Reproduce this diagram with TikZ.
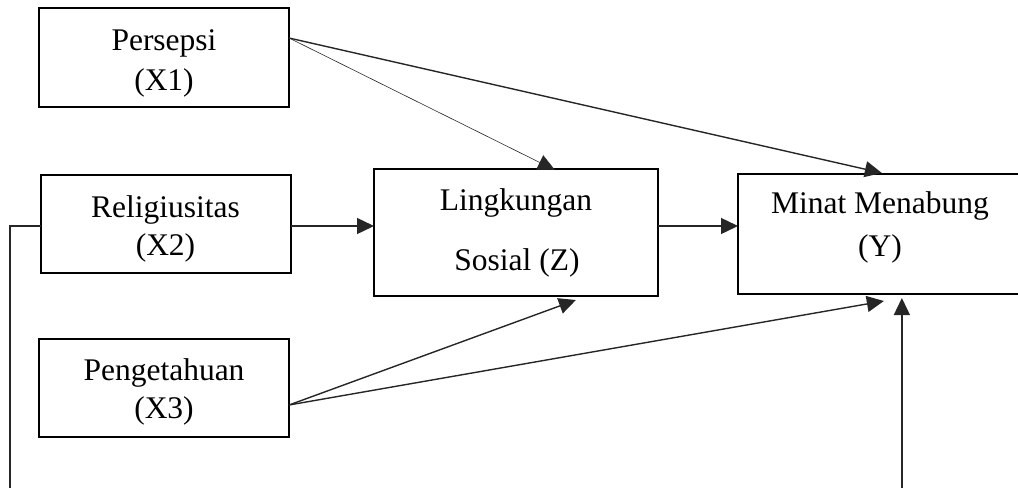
\documentclass[tikz,border=0pt]{standalone}
\usepackage{fontspec}
\setmainfont{Liberation Serif}
\usetikzlibrary{arrows.meta,calc}
\tikzset{
  box/.style={draw=black,line width=2.4pt,rectangle,inner sep=0pt,outer sep=0pt},
  lbl/.style={inner sep=0pt,outer sep=0pt,anchor=base,font=\fontsize{31.5}{38}\selectfont},
  arr/.style={draw=black!85,line width=1.4pt,-{Triangle[length=17pt,width=16pt]}},
  thinarr/.style={draw=black!85,line width=0.6pt,-{Triangle[length=17pt,width=16pt]}},
  conn/.style={draw=black!85,line width=1.4pt}
}
\begin{document}
\begin{tikzpicture}[x=1pt,y=-1pt]
\useasboundingbox (0,0) rectangle (1018,488);
\begin{scope}
\clip (0,0) rectangle (1018,488);
% boxes
\node[box,minimum width=250pt,minimum height=99pt] (x1) at (164,57.5) {};
\node[box,minimum width=250pt,minimum height=98pt] (x2) at (166,224) {};
\node[box,minimum width=250pt,minimum height=98pt] (x3) at (164,388) {};
\node[box,minimum width=284pt,minimum height=127pt] (z) at (516,232.5) {};
\node[box,minimum width=286pt,minimum height=120pt] (y) at (881,234) {};
% labels
\node[lbl] (x1a) at (164,50) {Persepsi};
\node[lbl] (x1b) at (164,90) {(X1)};
\node[lbl] (x2a) at (165.5,217) {Religiusitas};
\node[lbl] (x2b) at (165.5,255) {(X2)};
\node[lbl] (x3a) at (164,380) {Pengetahuan};
\node[lbl] (x3b) at (164,418) {(X3)};
\node[lbl] (za) at (516,210) {Lingkungan};
\node[lbl] (zb) at (517,270.5) {Sosial (Z)};
\node[lbl] (ya) at (880,213) {Minat Menabung};
\node[lbl] (yb) at (880,256) {(Y)};
% connector points
\coordinate (x1o) at ($(x1.north east)+(0,30)$);
\coordinate (x3o) at ($(x3.north east)+(0,66)$);
\coordinate (ztop) at ($(z.north west)!0.637!(z.north east)+(0,1)$);
\coordinate (ytop) at ($(y.north west)!0.503!(y.north east)+(0,-1)$);
\coordinate (zbot) at ($(z.south west)!0.711!(z.south east)+(0,4)$);
\coordinate (ybin) at ($(y.south west)!0.51!(y.south east)+(0,7)$);
\coordinate (yin) at ($(y.south west)!0.573!(y.south east)+(0,4)$);
\coordinate (ybot) at (yin |- 0,488);
\coordinate (lbot) at (10,488);
% connectors
\draw[thinarr] (x1o) -- (ztop);
\draw[arr] (x1o) -- (ytop);
\draw[arr] (x2.east |- 0,226) -- (z.west |- 0,226);
\draw[arr] (z.east |- 0,226) -- (y.west |- 0,226);
\draw[arr] (x3o) -- (zbot);
\draw[arr] (x3o) -- (ybin);
\draw[arr] (ybot) -- (yin);
\draw[conn] (x2.west |- 0,226) -| (lbot);
\end{scope}
\end{tikzpicture}
\end{document}
